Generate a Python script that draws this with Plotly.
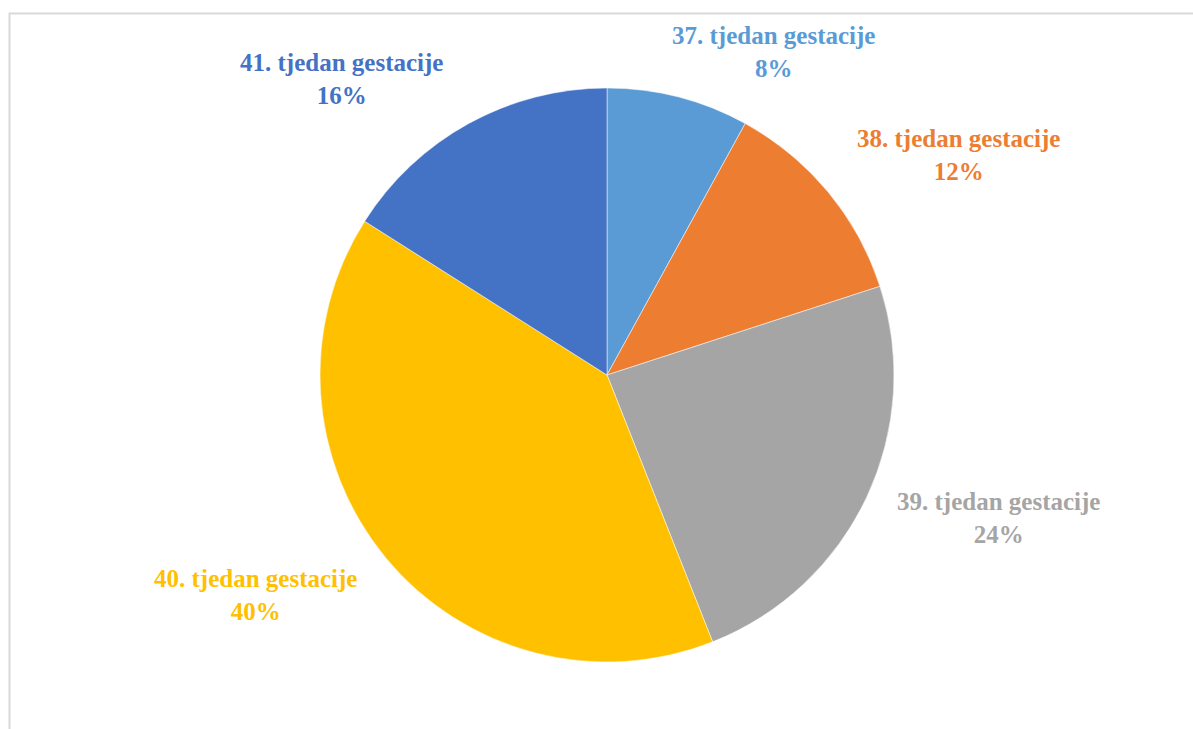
import plotly.graph_objects as go

categories = ["37. tjedan gestacije", "38. tjedan gestacije", "39. tjedan gestacije",
              "40. tjedan gestacije", "41. tjedan gestacije"]
values = [8, 12, 24, 40, 16]
colors = ["#5B9BD5", "#ED7D31", "#A5A5A5", "#FFC000", "#4472C4"]
# label anchor positions in page pixels (layout only)
label_px = [(773, 52), (958, 155), (998, 518), (255, 595), (342, 79)]

W, H = 1193, 729
cx, cy, r = 607, 375, 287


def px(x):
    return x / W


def py(y):
    return 1 - y / H


fig = go.Figure(go.Pie(
    labels=categories, values=values, sort=False, direction="clockwise", rotation=0,
    marker=dict(colors=colors, line=dict(color="white", width=0.5)),
    textinfo="none", hoverinfo="label+percent", showlegend=False,
    domain=dict(x=[(cx - r) / W, (cx + r) / W], y=[1 - (cy + r) / H, 1 - (cy - r) / H]),
))

total = sum(values)
for cat, v, col, (x, y) in zip(categories, values, colors, label_px):
    fig.add_annotation(
        x=px(x), y=py(y), xref="paper", yref="paper", showarrow=False,
        text=f"<b>{cat}</b><br><b>{round(100 * v / total)}%</b>",
        font=dict(family="Liberation Serif", size=25, color=col),
        align="center", xanchor="center", yanchor="middle",
    )

fig.add_shape(type="rect", xref="paper", yref="paper",
              x0=px(9.5), x1=1.05, y0=-0.05, y1=py(13.5),
              line=dict(color="#D9D9D9", width=2), fillcolor="rgba(0,0,0,0)")

fig.update_layout(width=W, height=H, margin=dict(l=0, r=0, t=0, b=0),
                  paper_bgcolor="white", plot_bgcolor="white")
fig.write_html("out.html", config={"displayModeBar": False},
               post_script="document.body.style.margin='0px';document.body.style.overflow='hidden';")
